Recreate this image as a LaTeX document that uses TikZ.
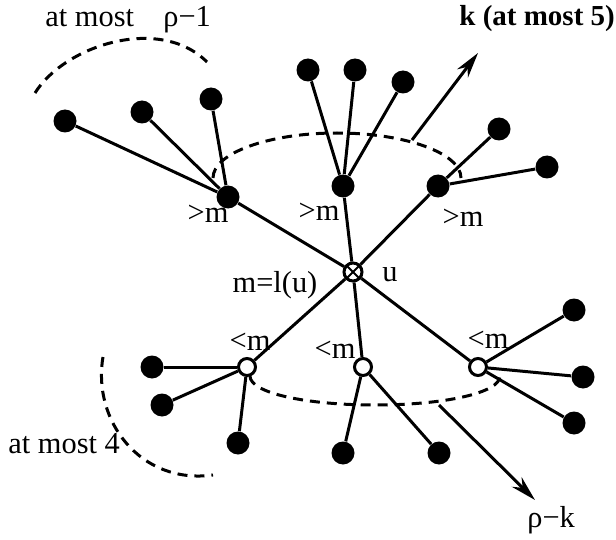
\documentclass[tikz,border=0pt]{standalone}
\usepackage{fontspec}
\setmainfont{Liberation Serif}
\usetikzlibrary{arrows.meta}
\tikzset{
  node-leaf/.style={circle,fill=black,inner sep=0pt,minimum size=11.5pt},
  node-high/.style={node-leaf},
  node-low/.style={circle,draw=black,line width=1.5pt,fill=white,
    inner sep=0pt,minimum size=8.5pt},
  node-root/.style={node-low,minimum size=9pt,
    path picture={\draw[line width=1pt]
      (path picture bounding box.north west) -- (path picture bounding box.south east)
      (path picture bounding box.north east) -- (path picture bounding box.south west);}},
  edge/.style={line width=1.5pt,draw=black},
  arrow/.style={-{Stealth[length=4.5mm,width=2.4mm]},line width=1.5pt,draw=black},
  boundary/.style={line width=1.5pt,dash pattern=on 5pt off 3.5pt},
  lbl/.style={font=\fontsize{15.2}{17}\selectfont,inner sep=0pt},
}

\begin{document}
\begin{tikzpicture}[x=0.5pt,y=-0.5pt]
  \useasboundingbox (0,0) rectangle (616,540);
  % centre and its six neighbours
  \node[node-root] (u) at (353,272) {};
  \node[node-high] (a1) at (228,197) {};
  \node[node-high] (a2) at (343,186) {};
  \node[node-high] (a3) at (438,186) {};
  \node[node-low] (b1) at (247,367) {};
  \node[node-low] (b2) at (363,367) {};
  \node[node-low] (b3) at (478,367) {};
  \foreach \n in {a1,a2,a3,b1,b2,b3}
    \draw[edge] (u) -- (\n);
  % leaves
  \foreach \n/\p/\x/\y in {a11/a1/65/121, a12/a1/142/112, a13/a1/211/99,
      a21/a2/308/70, a22/a2/355/70, a23/a2/403/82,
      a31/a3/499/129, a32/a3/547/167,
      b11/b1/152/367, b12/b1/162/405, b13/b1/238/443,
      b21/b2/343/453, b22/b2/439/453,
      b31/b3/574/310, b32/b3/583/377, b33/b3/574/423} {
    \node[node-leaf] (\n) at (\x,\y) {};
    \draw[edge] (\p) -- (\n);
  }
  % dashed boundaries
  \draw[boundary] (213,178) .. controls (213,153) and (269,133) .. (337,133)
    .. controls (405,133) and (461,153) .. (461,178);
  \draw[boundary] (250,376) .. controls (250,393) and (306,405) .. (375,405)
    .. controls (444,405) and (500,393) .. (500,376);
  \draw[boundary] (35,93) .. controls (65,45) and (160,15) .. (207,62);
  \draw[boundary] (103,357) .. controls (92,420) and (140,485) .. (213,475);
  % outgoing arrows
  \coordinate (k-from) at (412,140);
  \coordinate (k-to) at (478,53);
  \coordinate (rk-from) at (439,405);
  \coordinate (rk-to) at (535,500);
  \draw[arrow] (k-from) -- (k-to);
  \draw[arrow] (rk-from) -- (rk-to);
  % labels
  \node[lbl,anchor=base west] (t-top) at (45,27) {at most};
  \node[lbl,anchor=base west] (t-rho) at (163,27) {ρ−1};
  \node[lbl,anchor=base west,font=\fontsize{14.5}{16}\selectfont\bfseries] (t-k) at (459,26) {k (at most 5)};
  \node[lbl,anchor=base west] (t-four) at (8,453) {at most 4};
  \node[lbl,anchor=base west] (t-rk) at (527,527) {ρ−k};
  \node[lbl] (l-a1) at (208,214) {>m};
  \node[lbl] (l-a2) at (319,212) {>m};
  \node[lbl] (l-a3) at (463,218) {>m};
  \node[lbl] (l-m) at (275,285) {m=l(u)};
  \node[lbl] (l-u) at (390,275) {u};
  \node[lbl] (l-b1) at (250,342) {<m};
  \node[lbl] (l-b2) at (335,350) {<m};
  \node[lbl] (l-b3) at (488,340) {<m};
\end{tikzpicture}
\end{document}
